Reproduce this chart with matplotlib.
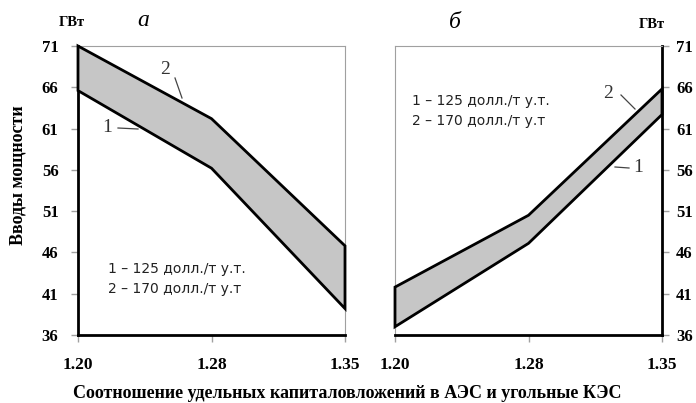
import matplotlib
matplotlib.use("Agg")
import matplotlib.pyplot as plt

categories = ["1.20", "1.28", "1.35"]
yticks = [36, 41, 46, 51, 56, 61, 66, 71]

# panel a
a_line1 = [65.6, 56.2, 39.2]   # 125 $/t
a_line2 = [71.0, 62.2, 46.8]   # 170 $/t
# panel b
b_line1 = [37.0, 47.1, 62.7]
b_line2 = [41.8, 50.5, 65.8]

legend_lines = ["1 – 125 долл./т у.т.", "2 – 170 долл./т у.т"]

W, H = 696, 403
fig = plt.figure(figsize=(W / 100, H / 100), dpi=100)
fig.patch.set_facecolor("white")

serif = "Liberation Serif"
fill_col = "#c6c6c6"
gray = "#a0a0a0"


def frac(px, py):
    return px / W, 1 - py / H


def make_axes(left_px, side):
    ax = fig.add_axes([left_px / W, (H - 335) / H, 267 / W, 289 / H])
    x = list(range(len(categories)))
    ax.set_xlim(0, len(categories) - 1)
    ax.set_ylim(36, 71)
    ax.set_xticks(x)
    ax.set_xticklabels(categories, fontfamily=serif, fontweight="bold", fontsize=12.5)
    ax.set_yticks(yticks)
    ax.set_yticklabels([str(v) for v in yticks], fontfamily=serif,
                       fontweight="bold", fontsize=12)
    ax.tick_params(axis="x", length=5, color=gray, width=1, pad=11)
    ax.tick_params(axis="y", length=5, color=gray, width=1,
                   pad=9 if side == "left" else 5)
    for s in ax.spines.values():
        s.set_color(gray)
        s.set_linewidth(0.8)
    ax.spines["bottom"].set_color("black")
    ax.spines["bottom"].set_linewidth(2)
    if side == "left":
        ax.spines["left"].set_color("black")
        ax.spines["left"].set_linewidth(2)
    else:
        ax.spines["right"].set_color("black")
        ax.spines["right"].set_linewidth(2)
        ax.yaxis.tick_right()
    return ax, x


def band(ax, x, lo, hi):
    xs = list(x) + list(x)[::-1]
    ys = list(hi) + list(lo)[::-1]
    ax.fill(xs, ys, facecolor=fill_col, edgecolor="black", linewidth=2,
            joinstyle="miter", zorder=3, clip_on=False)


axa, xa = make_axes(78, "left")
band(axa, xa, a_line1, a_line2)
axb, xb = make_axes(395, "right")
band(axb, xb, b_line1, b_line2)

# leader lines and labels (figure pixel coords)
def leader(x0, y0, x1, y1):
    fx0, fy0 = frac(x0, y0)
    fx1, fy1 = frac(x1, y1)
    fig.add_artist(plt.Line2D([fx0, fx1], [fy0, fy1], color="#444444", lw=0.9))


def lbl(px, py, s, **kw):
    fx, fy = frac(px, py)
    fig.text(fx, fy, s, ha="center", va="center", **kw)


lbl(165, 70, "2", fontfamily=serif, fontsize=14, color="#333333")
leader(175, 78, 182, 98)
lbl(107, 128, "1", fontfamily=serif, fontsize=14, color="#333333")
leader(118, 128, 138, 129)

lbl(608, 93, "2", fontfamily=serif, fontsize=14, color="#333333")
leader(621, 95, 635, 109)
lbl(638, 168, "1", fontfamily=serif, fontsize=14, color="#333333")
leader(615, 167, 629, 168)

# legends
for i, s in enumerate(legend_lines):
    fx, fy = frac(108, 269 + 20 * i)
    fig.text(fx, fy, s, ha="left", va="center", fontfamily="DejaVu Sans",
             fontsize=10, color="#222222")
    fx, fy = frac(412, 101 + 20 * i)
    fig.text(fx, fy, s, ha="left", va="center", fontfamily="DejaVu Sans",
             fontsize=10, color="#222222")

# units and panel letters
lbl(72, 23, "ГВт", fontfamily=serif, fontweight="bold", fontsize=10.5)
lbl(652, 24, "ГВт", fontfamily=serif, fontweight="bold", fontsize=10.5)
lbl(143, 20, "а", fontfamily=serif, fontstyle="italic", fontsize=17)
lbl(455, 22, "б", fontfamily=serif, fontstyle="italic", fontsize=17)

# axis labels
lbl(18, 175, "Вводы мощности", fontfamily=serif, fontweight="bold",
    fontsize=13, rotation=90)
lbl(347, 393, "Соотношение удельных капиталовложений в АЭС и угольные КЭС",
    fontfamily=serif, fontweight="bold", fontsize=13)

fig.savefig("out.png", dpi=100, facecolor="white")
